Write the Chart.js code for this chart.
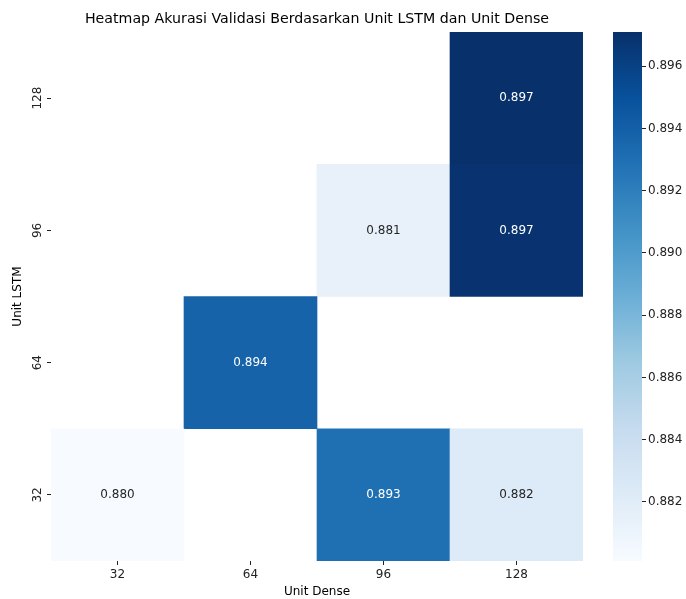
<!DOCTYPE html>
<html>
<head>
<meta charset="utf-8">
<script src="https://cdn.jsdelivr.net/npm/chart.js@4/dist/chart.umd.min.js"></script>
<style>
  html, body { margin: 0; padding: 0; background: #fff; }
  #wrap { position: relative; width: 686px; height: 599px; }
  #heatmap { position: absolute; left: 0; top: 0; }
  #colorbar { position: absolute; left: 600px; top: 0; }
</style>
</head>
<body>
<div id="wrap">
  <canvas id="heatmap" width="686" height="599"></canvas>
  <canvas id="colorbar" width="86" height="599"></canvas>
</div>
<script>
const unitDense = ['32', '64', '96', '128'];
const unitLstm = ['32', '64', '96', '128'];
// validation accuracy for each LSTM size, indexed by dense units (null = not tried)
const lstm32 = [0.8801, null, 0.8930, 0.8823];
const lstm64 = [null, 0.8938, null, null];
const lstm96 = [null, null, 0.8814, 0.8969];
const lstm128 = [null, null, null, 0.8971];
const colorbarTicks = [0.882, 0.884, 0.886, 0.888, 0.890, 0.892, 0.894, 0.896];

const rows = [lstm32, lstm64, lstm96, lstm128];
const allValues = rows.flat().filter(v => v !== null);
const vmin = Math.min(...allValues);
const vmax = Math.max(...allValues);

const FONT = 'DejaVu Sans';

// matplotlib "Blues" colormap stops
const bluesStops = ['#f7fbff', '#deebf7', '#c6dbef', '#9ecae1', '#6baed6',
                    '#4292c6', '#2171b5', '#08519c', '#08306b'];
const hexToRgb = h => [1, 3, 5].map(i => parseInt(h.slice(i, i + 2), 16));

function bluesRgb(t) {
  t = Math.max(0, Math.min(1, t));
  const p = t * (bluesStops.length - 1);
  const i = Math.min(Math.floor(p), bluesStops.length - 2);
  const f = p - i;
  const a = hexToRgb(bluesStops[i]), b = hexToRgb(bluesStops[i + 1]);
  return a.map((c, k) => Math.round(c + (b[k] - c) * f));
}
const norm = v => (v - vmin) / (vmax - vmin);
const rgbStr = c => `rgb(${c[0]},${c[1]},${c[2]})`;

// white text on dark cells, dark text on light ones
function textColorFor(v) {
  const lum = bluesRgb(norm(v)).map(c => {
    c /= 255;
    return c <= 0.03928 ? c / 12.92 : Math.pow((c + 0.055) / 1.055, 2.4);
  });
  const L = 0.2126 * lum[0] + 0.7152 * lum[1] + 0.0722 * lum[2];
  return L < 0.408 ? '#ffffff' : '#262626';
}

const cellLabels = {
  id: 'cellLabels',
  afterDatasetsDraw(chart) {
    const ctx = chart.ctx;
    ctx.save();
    ctx.font = `12px "${FONT}"`;
    ctx.textAlign = 'center';
    ctx.textBaseline = 'middle';
    chart.data.datasets.forEach((ds, d) => {
      chart.getDatasetMeta(d).data.forEach((bar, i) => {
        const v = ds.values[i];
        if (v === null) return;
        ctx.fillStyle = textColorFor(v);
        ctx.fillText(v.toFixed(3), bar.x, (bar.y + bar.base) / 2);
      });
    });
    ctx.restore();
  }
};

const tickGrid = {
  display: true,
  offset: false,
  drawOnChartArea: false,
  drawTicks: true,
  tickLength: 4,
  tickWidth: 1,
  tickColor: '#222'
};

new Chart(document.getElementById('heatmap'), {
  type: 'bar',
  data: {
    labels: unitDense,
    datasets: rows.map((row, r) => ({
      label: unitLstm[r],
      values: row,
      data: row.map(v => v === null ? null : [r - 0.5, r + 0.5]),
      backgroundColor: row.map(v => v === null ? 'rgba(0,0,0,0)' : rgbStr(bluesRgb(norm(v)))),
      borderWidth: 0,
      categoryPercentage: 1,
      barPercentage: 1
    }))
  },
  options: {
    responsive: false,
    animation: false,
    layout: { padding: { left: 0, right: 103, top: 0, bottom: 0 } },
    plugins: {
      legend: { display: false },
      tooltip: { enabled: false },
      title: {
        display: true,
        fullSize: false,
        text: 'Heatmap Akurasi Validasi Berdasarkan Unit LSTM dan Unit Dense',
        color: '#000',
        font: { family: FONT, size: 14.2, weight: 'normal' },
        padding: { top: 11, bottom: 4 }
      }
    },
    scales: {
      x: {
        type: 'category',
        stacked: true,
        offset: true,
        grid: tickGrid,
        border: { display: false },
        ticks: { color: '#222', font: { family: FONT, size: 12 }, padding: 3, maxRotation: 0 },
        title: {
          display: true,
          text: 'Unit Dense',
          color: '#000',
          font: { family: FONT, size: 12 },
          padding: { top: 0, bottom: 0 }
        },
        afterFit: s => { s.height = 38; }
      },
      y: {
        type: 'linear',
        stacked: false,
        min: -0.5,
        max: 3.5,
        afterBuildTicks: s => { s.ticks = unitLstm.map((_, i) => ({ value: i })); },
        grid: tickGrid,
        border: { display: false },
        ticks: {
          color: '#222',
          font: { family: FONT, size: 12 },
          callback: v => unitLstm[v],
          minRotation: 90,
          maxRotation: 90,
          crossAlign: 'center',
          padding: -2
        },
        title: {
          display: true,
          text: 'Unit LSTM',
          color: '#000',
          font: { family: FONT, size: 12 },
          padding: { top: 11, bottom: 0 }
        },
        afterFit: s => { s.width = 51; }
      }
    }
  },
  plugins: [cellLabels]
});

// colour bar: one floating bar spanning the data range, filled with the colormap
new Chart(document.getElementById('colorbar'), {
  type: 'bar',
  data: {
    labels: [''],
    datasets: [{
      data: [[vmin, vmax]],
      backgroundColor: ctx => {
        const area = ctx.chart.chartArea;
        if (!area) return bluesStops[4];
        const g = ctx.chart.ctx.createLinearGradient(0, area.bottom, 0, area.top);
        bluesStops.forEach((c, i) => g.addColorStop(i / (bluesStops.length - 1), c));
        return g;
      },
      borderWidth: 0,
      categoryPercentage: 1,
      barPercentage: 1
    }]
  },
  options: {
    responsive: false,
    animation: false,
    layout: { padding: { left: 13, right: 0, top: 32, bottom: 38 } },
    plugins: { legend: { display: false }, tooltip: { enabled: false } },
    scales: {
      x: { display: false },
      y: {
        position: 'right',
        min: vmin,
        max: vmax,
        afterBuildTicks: s => { s.ticks = colorbarTicks.map(v => ({ value: v })); },
        grid: tickGrid,
        border: { display: false },
        ticks: {
          color: '#222',
          font: { family: FONT, size: 12 },
          padding: 2,
          callback: v => v.toFixed(3)
        },
        afterFit: s => { s.width = 44; }
      }
    }
  }
});
</script>
</body>
</html>
